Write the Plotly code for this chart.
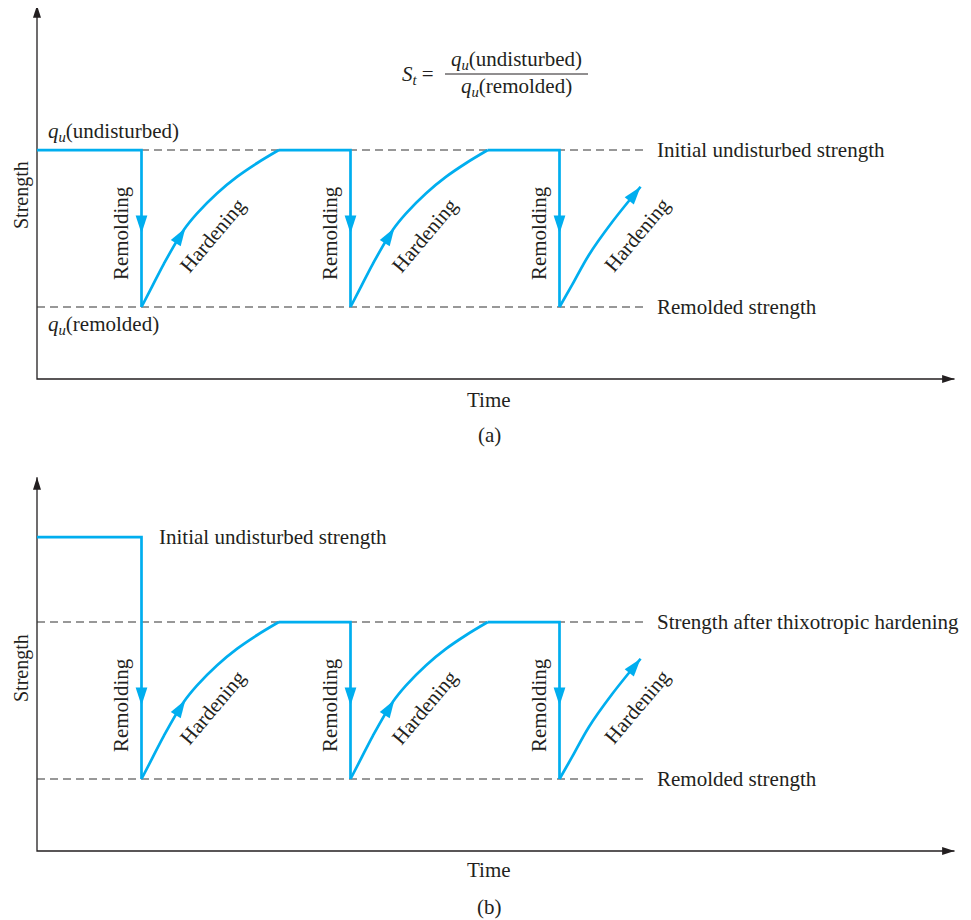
import numpy as np
import plotly.graph_objects as go

# ---------------- data ----------------
drop_times = [0.5, 1.5, 2.5]                      # remolding instants (time units)
tau_full = [0, 0.043, 0.107, 0.202, 0.266, 0.362, 0.458, 0.554, 0.657]
s_full = [1.0, 1.24, 1.60, 2.07, 2.30, 2.58, 2.81, 3.00, 3.18]
tau_part = [0, 0.061, 0.140, 0.252, 0.388]
s_part = [1.0, 1.31, 1.72, 2.18, 2.67]

remolded = 1.0
undisturbed_a = 3.18
hardened_b = 3.18
initial_b = 4.36
axis_end_t = 4.39
axis_top_s = 5.19
dash_end_t = 2.9
label_t = 2.957
arrow_drop_s = 2.02
arrow_hard_tau = 0.21
hard_label_t = [0.842, 1.856, 2.871]
hard_label_s = 2.0

right_labels_a = ["Initial undisturbed strength", "Remolded strength"]
right_labels_b = ["Strength after thixotropic hardening", "Remolded strength"]

# ---------------- style ----------------
BLUE = "#00AEEF"
DARK = "#231F20"
FONT = "Liberation Serif"
FS = 21
OFF = 8                 # page body margin
W, H = 971 - OFF, 920 - OFF
PX_T = 209.0   # pixels per time unit
PX_S = 72.0    # pixels per strength unit

fig = go.Figure()
txt = dict(family=FONT, size=FS, color=DARK)


def arrow_marker(xr, yr, xs, ys, angles, color, size):
    fig.add_trace(go.Scatter(x=xs, y=ys, mode="markers", xaxis=xr, yaxis=yr,
                             hoverinfo="skip",
                             marker=dict(symbol="arrow", size=size, angle=angles,
                                         color=color, line=dict(width=0))))


def add_panel(xr, yr, top_level, first_level, dashed_levels, labels):
    # axes lines
    fig.add_trace(go.Scatter(x=[0, 0, axis_end_t], y=[axis_top_s, 0, 0], mode="lines",
                             line=dict(color=DARK, width=1.3), xaxis=xr, yaxis=yr,
                             hoverinfo="skip"))
    arrow_marker(xr, yr, [0, axis_end_t], [axis_top_s, 0], [0, 90], DARK, 13)
    # dashed reference lines
    for lv, lab in zip(dashed_levels, labels):
        fig.add_trace(go.Scatter(x=[0, dash_end_t], y=[lv, lv], mode="lines",
                                 line=dict(color="#333333", width=1.1, dash="8px,5px"),
                                 xaxis=xr, yaxis=yr, hoverinfo="skip"))
        fig.add_annotation(x=label_t, y=lv, xref=xr, yref=yr, text=lab, showarrow=False,
                           xanchor="left", yanchor="middle", font=txt)
    # blue path: flat + drop segments
    starts = [0] + [d + tau_full[-1] for d in drop_times[:-1]]
    for i, (st, d) in enumerate(zip(starts, drop_times)):
        lvl = first_level if i == 0 else top_level
        fig.add_trace(go.Scatter(x=[st, d, d], y=[lvl, lvl, remolded], mode="lines",
                                 line=dict(color=BLUE, width=2.7),
                                 xaxis=xr, yaxis=yr, hoverinfo="skip"))
        fig.add_annotation(x=d - 21 / PX_T, y=arrow_drop_s, xref=xr, yref=yr,
                           text="Remolding", showarrow=False, textangle=-90, font=txt,
                           xanchor="center", yanchor="middle")
        fig.add_annotation(x=hard_label_t[i], y=hard_label_s, xref=xr, yref=yr,
                           text="Hardening", showarrow=False, textangle=-50, font=txt,
                           xanchor="center", yanchor="middle")
    arrow_marker(xr, yr, drop_times, [arrow_drop_s] * 3, [180] * 3, BLUE, 19)
    # hardening curves
    ax_, ay_, ang_ = [], [], []
    for i, d in enumerate(drop_times):
        tt = tau_full if i < 2 else tau_part
        ss = s_full if i < 2 else s_part
        fig.add_trace(go.Scatter(x=[d + t for t in tt], y=ss, mode="lines",
                                 line=dict(color=BLUE, width=2.7, shape="spline", smoothing=1.0),
                                 xaxis=xr, yaxis=yr, hoverinfo="skip"))
        if i < 2:
            tip_t = arrow_hard_tau
            tip_s = float(np.interp(tip_t, tt, ss))
            t0 = tip_t - 0.03
        else:
            tip_t, tip_s = tt[-1], ss[-1]
            t0 = tt[-1] - 0.05
        s0 = float(np.interp(t0, tt, ss))
        dx = (tip_t - t0) * PX_T
        dy = (tip_s - s0) * PX_S
        ax_.append(d + tip_t)
        ay_.append(tip_s)
        ang_.append(float(np.degrees(np.arctan2(dx, dy))))
    arrow_marker(xr, yr, ax_, ay_, ang_, BLUE, 19)


add_panel("x", "y", undisturbed_a, undisturbed_a, [undisturbed_a, remolded], right_labels_a)
add_panel("x2", "y2", hardened_b, initial_b, [hardened_b, remolded], right_labels_b)


def P(px, py):
    return (px - OFF) / W, 1 - (py - OFF) / H


def ptext(px, py, text, xanchor="center", font=txt, **kw):
    x, y = P(px, py)
    fig.add_annotation(x=x, y=y, xref="paper", yref="paper", text=text, showarrow=False,
                       font=font, xanchor=xanchor, yanchor="middle", **kw)


small = dict(family=FONT, size=20, color=DARK)

# panel (a) texts
ptext(46, 132, "<i>q<sub>u</sub></i>(undisturbed)", xanchor="left")
ptext(46, 325, "<i>q<sub>u</sub></i>(remolded)", xanchor="left")
ptext(21, 195, "Strength", textangle=-90, font=small)
ptext(489, 400, "Time")
ptext(489, 435, "(a)")
ptext(516, 60, "<i>q<sub>u</sub></i>(undisturbed)")
ptext(516, 87, "<i>q<sub>u</sub></i>(remolded)")
ptext(418, 75, "<i>S<sub>t</sub></i> =")
x0, y0 = P(445, 74)
x1, _ = P(588, 74)
fig.add_shape(type="line", xref="paper", yref="paper", x0=x0, x1=x1, y0=y0, y1=y0,
              line=dict(color=DARK, width=1))

# panel (b) texts
ptext(157, 537, "Initial undisturbed strength", xanchor="left")
ptext(21, 668, "Strength", textangle=-90, font=small)
ptext(489, 870, "Time")
ptext(489, 907, "(b)")

xrange = [(OFF - 37) / PX_T, (971 - 37) / PX_T]
split = 464
fig.update_layout(
    width=W, height=H, margin=dict(l=0, r=0, t=0, b=0),
    paper_bgcolor="white", plot_bgcolor="white", showlegend=False,
    xaxis=dict(domain=[0, 1], range=xrange, visible=False, anchor="y"),
    yaxis=dict(domain=[0.5, 1], range=[(379 - split) / PX_S, (379 - OFF) / PX_S],
               visible=False, anchor="x"),
    xaxis2=dict(domain=[0, 1], range=xrange, visible=False, anchor="y2"),
    yaxis2=dict(domain=[0, 0.5], range=[(851 - 920) / PX_S, (851 - split) / PX_S],
                visible=False, anchor="x2"),
)

fig.write_html("out.html")
